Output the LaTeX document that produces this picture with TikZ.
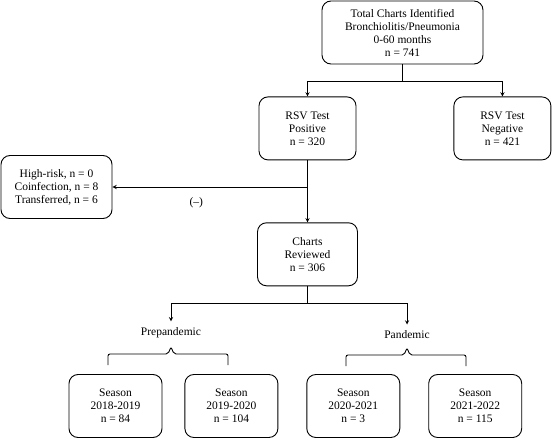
\documentclass[tikz,border=0pt]{standalone}
\usepackage{fontspec}
\setmainfont{Liberation Serif}
\usetikzlibrary{positioning}

\begin{document}
\begin{tikzpicture}[x=1pt,y=1pt,line width=0.9pt,>=stealth,
  box/.style={draw, rectangle, rounded corners=9pt, align=center, minimum height=63pt, font=\fontsize{11.5}{13}\selectfont},
  grp/.style={font=\fontsize{11.5}{13}\selectfont, inner xsep=2pt, inner ysep=6pt}]
\useasboundingbox (0,0) rectangle (552,-439);

\node[box, minimum width=161pt] (total) at (402.5,-32.5) {Total Charts Identified\\Bronchiolitis/Pneumonia\\0-60 months\\n = 741};
\node[box, minimum width=97pt, below=32pt of total, xshift=-95pt] (pos) {RSV Test\\Positive\\n = 320};
\node[box, minimum width=97pt, right=97pt of pos] (neg) {RSV Test\\Negative\\n = 421};
\node[box, minimum width=111pt] (excl) at (56.5,-187) {High-risk, n = 0\\Coinfection, n = 8\\Transferred, n = 6};
\node[box, minimum width=100pt, below=62pt of pos] (rev) {Charts\\Reviewed\\n = 306};

\node[grp] (pre) at (171,-333) {Prepandemic};
\node[grp] (pan) at (407,-335) {Pandemic};

\node[box, minimum width=93pt] (s1) at (115.5,-406) {Season\\2018-2019\\n = 84};
\node[box, minimum width=93pt, right=22pt of s1] (s2) {Season\\2019-2020\\n = 104};
\node[box, minimum width=93pt, right=28pt of s2] (s3) {Season\\2020-2021\\n = 3};
\node[box, minimum width=93pt, right=28pt of s3] (s4) {Season\\2021-2022\\n = 115};

\draw (total.south) -- ++(0,-17pt) coordinate (t1);
\draw[->] (t1) -| (pos);
\draw[->] (t1) -| (neg);
\draw[->] (pos) -- (rev);
\draw[->] (pos.south |- excl.east) -- node[pos=0.57, below=7pt, font=\fontsize{11.5}{13}\selectfont] (minus) {(--)} (excl);

\draw (rev.south) -- ++(0,-17pt) coordinate (t2);
\draw[->] (t2) -| (pre);
\draw[->] (t2) -| (pan);

% brackets over the seasons
\draw[rounded corners=2pt] (108,-365) -- (108,-354) -- (168,-354) -- (171,-347) -- (174,-354) -- (228,-354) -- (228,-365);
\draw[rounded corners=2pt] (346,-366) -- (346,-355) -- (404,-355) -- (407,-348) -- (410,-355) -- (466,-355) -- (466,-366);
\end{tikzpicture}
\end{document}
